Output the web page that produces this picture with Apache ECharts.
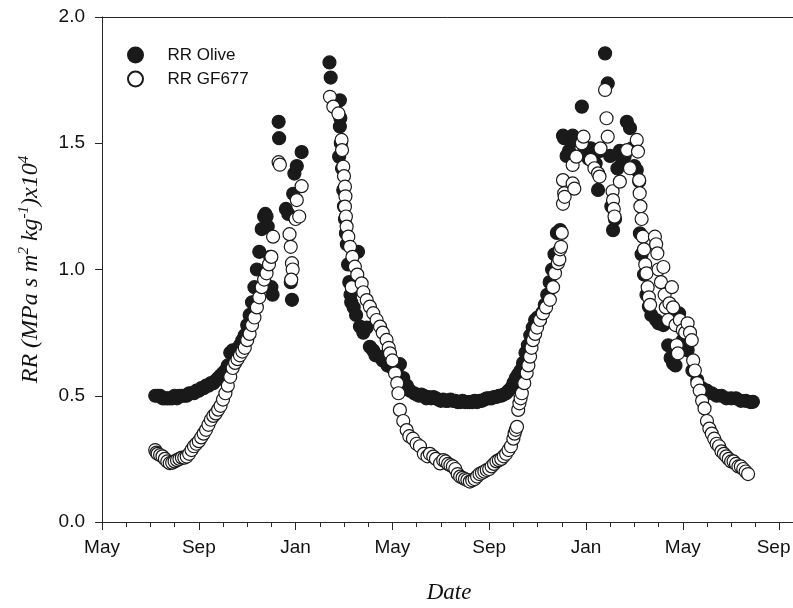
<!DOCTYPE html>
<html><head><meta charset="utf-8">
<script src="https://cdn.jsdelivr.net/npm/echarts@6/dist/echarts.min.js"></script>
<style>html,body{margin:0;padding:0;background:#fff}#c{width:793px;height:608px}</style>
</head><body><div id="c"></div>
<script>
// x = months since 1 May of the first year (May=0, Sep=4, Jan=8, ...)
const tickLabels = ['May','Sep','Jan','May','Sep','Jan','May','Sep'];
const seriesNames = ['RR Olive','RR GF677'];

const olive = [
 [2.2,.50],[2.3,.50],[2.4,.50],[2.5,.49],[2.6,.49],[2.7,.49],[2.8,.49],[2.9,.49],[3.0,.50],[3.1,.49],
 [3.2,.50],[3.3,.50],[3.4,.50],[3.5,.50],[3.6,.51],[3.7,.51],[3.8,.51],[3.9,.52],[4.0,.52],[4.1,.53],
 [4.2,.53],[4.3,.54],[4.4,.54],[4.5,.55],[4.6,.55],[4.7,.56],[4.8,.57],[4.9,.58],[5.0,.59],[5.1,.60],
 [5.2,.62],[5.3,.67],[5.4,.68],[5.5,.66],[5.6,.68],[5.7,.70],[5.8,.72],[5.9,.74],[6.0,.78],[6.1,.82],
 [6.2,.87],[6.3,.93],[6.4,1.00],[6.5,1.07],[6.6,1.16],[6.7,1.21],[6.75,1.22],[6.8,1.21],[6.85,1.17],
 [6.95,1.05],[7.0,.93],[7.05,.90],[7.3,1.585],[7.32,1.52],[7.6,1.24],[7.7,1.22],[7.8,.95],[7.85,.88],
 [7.9,1.30],[7.95,1.38],[8.05,1.41],[8.25,1.465],
 [9.40,1.82],[9.45,1.76],[9.83,1.67],[9.85,1.60],[9.83,1.566],[9.87,1.50],[9.80,1.447],[9.92,1.40],
 [9.97,1.315],[10.0,1.25],[10.04,1.20],[10.08,1.144],[10.12,1.10],[10.17,1.02],[10.22,.95],[10.27,.90],
 [10.3,.87],[10.4,.85],[10.5,.82],[10.58,1.07],[10.66,.774],[10.8,.75],[10.94,.77],[11.07,.694],
 [11.2,.68],[11.3,.66],[11.49,.655],[11.6,.64],[11.8,.62],[12.0,.61],[12.18,.602],[12.31,.625],
 [12.45,.57],[12.6,.54],[12.73,.52],[12.9,.51],[13.0,.505],[13.1,.50],[13.2,.505],[13.3,.50],
 [13.4,.49],[13.5,.495],[13.6,.49],[13.7,.495],[13.8,.49],[13.9,.485],[14.0,.48],[14.1,.485],
 [14.2,.48],[14.3,.48],[14.4,.485],[14.5,.48],[14.6,.48],[14.7,.475],[14.8,.475],[14.9,.48],
 [15.0,.475],[15.1,.475],[15.2,.475],[15.3,.475],[15.4,.48],[15.5,.475],[15.6,.48],[15.7,.48],
 [15.8,.485],[15.9,.49],[16.0,.49],[16.1,.49],[16.2,.495],[16.3,.495],[16.4,.50],[16.5,.50],
 [16.6,.505],[16.7,.51],[16.8,.52],[16.9,.53],[17.0,.55],[17.1,.57],[17.2,.585],[17.3,.60],
 [17.4,.63],[17.5,.67],[17.6,.70],[17.7,.74],[17.8,.77],[17.9,.80],[18.0,.81],[18.1,.80],
 [18.2,.83],[18.3,.86],[18.4,.90],[18.5,.95],[18.6,1.0],[18.7,1.06],[18.8,1.145],[18.93,1.156],
 [19.05,1.53],[19.1,1.52],[19.2,1.45],[19.3,1.47],[19.45,1.53],[19.5,1.51],[19.83,1.645],[19.9,1.49],
 [20.0,1.46],[20.1,1.44],[20.2,1.48],[20.3,1.45],[20.4,1.42],[20.5,1.315],[20.6,1.47],[20.79,1.856],
 [20.9,1.737],[21.0,1.45],[21.05,1.25],[21.12,1.156],[21.2,1.20],[21.3,1.40],[21.4,1.47],[21.5,1.43],
 [21.6,1.45],[21.69,1.585],[21.82,1.56],[21.9,1.48],[22.0,1.41],[22.1,1.394],[22.2,1.35],[22.23,1.143],
 [22.3,1.06],[22.4,.98],[22.5,.90],[22.6,.853],[22.7,.82],[22.9,.80],[23.0,.787],[23.2,.78],
 [23.4,.70],[23.5,.65],[23.6,.628],[23.7,.62],[23.85,.826],[23.9,.78],[24.0,.72],[24.2,.68],
 [24.4,.60],[24.6,.562],[24.8,.53],[25.0,.52],[25.2,.51],[25.4,.50],[25.6,.50],[25.8,.49],
 [26.0,.49],[26.2,.49],[26.4,.48],[26.6,.48],[26.8,.475],[26.9,.476]
];

const gf677 = [
 [2.2,.285],[2.25,.275],[2.3,.27],[2.4,.265],[2.5,.26],[2.6,.25],[2.7,.24],[2.8,.233],[2.9,.235],
 [3.0,.24],[3.1,.245],[3.2,.25],[3.3,.255],[3.4,.255],[3.5,.259],[3.6,.27],[3.7,.285],[3.8,.30],
 [3.9,.31],[4.0,.32],[4.1,.335],[4.2,.35],[4.3,.365],[4.4,.385],[4.5,.405],[4.6,.42],[4.7,.43],
 [4.8,.445],[4.9,.46],[5.0,.485],[5.1,.51],[5.2,.54],[5.3,.575],[5.4,.61],[5.5,.63],[5.6,.645],
 [5.7,.66],[5.8,.675],[5.9,.69],[6.0,.72],[6.1,.745],[6.2,.78],[6.3,.81],[6.4,.85],[6.5,.89],
 [6.6,.93],[6.7,.96],[6.8,.985],[6.9,1.02],[7.0,1.05],[7.07,1.13],[7.3,1.425],[7.35,1.415],
 [7.75,1.14],[7.8,1.09],[7.85,1.025],[7.88,1.0],[7.82,.96],[8.0,1.2],[8.05,1.275],[8.15,1.21],[8.25,1.33],
 [9.42,1.684],[9.56,1.645],[9.77,1.618],[9.90,1.513],[9.92,1.473],[9.97,1.407],[10.0,1.37],
 [10.04,1.328],[10.06,1.29],[10.04,1.249],[10.08,1.21],[10.11,1.170],[10.18,1.13],[10.25,1.090],
 [10.35,1.05],[10.45,1.011],[10.55,.98],[10.32,.93],[10.73,.945],[10.8,.91],[10.94,.879],
 [11.07,.853],[11.21,.827],[11.35,.80],[11.49,.774],[11.6,.75],[11.76,.721],[11.85,.69],[11.90,.668],
 [12.0,.64],[12.11,.589],[12.2,.55],[12.25,.510],[12.31,.444],[12.45,.40],[12.59,.364],[12.7,.34],
 [12.85,.33],[13.0,.31],[13.14,.30],[13.3,.27],[13.45,.26],[13.55,.27],[13.69,.259],[13.8,.25],
 [13.97,.232],[14.1,.245],[14.2,.24],[14.3,.23],[14.4,.225],[14.5,.22],[14.6,.21],[14.7,.19],
 [14.8,.18],[14.9,.175],[15.0,.17],[15.1,.166],[15.2,.16],[15.3,.165],[15.4,.17],[15.5,.18],
 [15.6,.19],[15.7,.195],[15.8,.20],[15.9,.206],[16.0,.21],[16.1,.22],[16.2,.23],[16.3,.24],
 [16.4,.245],[16.5,.25],[16.6,.26],[16.7,.27],[16.8,.285],[16.9,.30],[17.0,.33],[17.05,.35],
 [17.1,.365],[17.15,.377],[17.2,.444],[17.25,.47],[17.3,.49],[17.35,.51],[17.45,.55],[17.55,.59],
 [17.62,.62],[17.69,.655],[17.75,.69],[17.81,.72],[17.9,.745],[17.98,.77],[18.1,.80],[18.22,.826],
 [18.35,.85],[18.51,.88],[18.64,.93],[18.72,.985],[18.84,1.025],[18.9,1.04],[18.93,1.08],[18.97,1.09],
 [19.0,1.145],[19.05,1.26],[19.1,1.302],[19.12,1.288],[19.05,1.354],[19.45,1.341],[19.45,1.414],
 [19.52,1.32],[19.6,1.447],[19.83,1.50],[19.9,1.526],[20.2,1.434],[20.35,1.401],[20.5,1.381],
 [20.56,1.368],[20.6,1.48],[20.79,1.711],[20.85,1.599],[20.9,1.526],[21.1,1.31],[21.12,1.275],
 [21.15,1.24],[21.18,1.21],[21.4,1.348],[21.7,1.473],[21.82,1.401],[22.1,1.513],[22.15,1.467],
 [22.2,1.354],[22.22,1.302],[22.25,1.25],[22.3,1.20],[22.35,1.13],[22.4,1.08],[22.45,1.02],
 [22.5,.985],[22.55,.93],[22.6,.89],[22.65,.86],[22.85,1.13],[22.9,1.10],[22.95,1.064],[23.0,1.0],
 [23.1,.95],[23.2,1.01],[23.25,.90],[23.3,.85],[23.4,.80],[23.45,.866],[23.55,.93],[23.6,.85],
 [23.7,.78],[23.75,.70],[23.8,.668],[23.88,.80],[24.0,.76],[24.1,.75],[24.2,.787],[24.3,.75],
 [24.37,.72],[24.43,.64],[24.5,.60],[24.6,.55],[24.7,.52],[24.8,.48],[24.9,.45],[25.0,.40],
 [25.1,.37],[25.2,.35],[25.3,.33],[25.4,.31],[25.5,.30],[25.6,.28],[25.7,.27],[25.8,.26],
 [25.9,.25],[26.0,.24],[26.1,.24],[26.2,.23],[26.3,.22],[26.4,.22],[26.5,.21],[26.6,.20],[26.7,.19]
];

const axisColor = '#262626';
const textColor = '#111';
const xMax = 28.68;
const chart = echarts.init(document.getElementById('c'), null, {renderer: 'canvas'});
chart.setOption({
  animation: false,
  backgroundColor: '#fff',
  grid: {left: 102, right: -3, top: 17, bottom: 86, containLabel: false, outerBoundsMode: 'none'},
  legend: {
    orient: 'vertical', left: 127, top: 46.5, padding: 0,
    itemWidth: 54, itemHeight: 15, itemGap: 7,
    textStyle: {fontFamily: 'Liberation Sans', fontSize: 17, color: textColor, padding: [0,0,0,0]},
    data: seriesNames
  },
  xAxis: [
    {
      type: 'value', position: 'bottom', min: 0, max: xMax, interval: 4,
      axisLine: {lineStyle: {color: axisColor, width: 1}},
      axisTick: {length: 8, lineStyle: {color: axisColor}},
      axisLabel: {
        margin: 16, fontSize: 19, color: textColor, fontFamily: 'Liberation Sans',
        formatter: v => {
          if (Math.abs(v % 4) > 1e-9) return '';
          const k = Math.round(v / 4);
          if (k >= tickLabels.length) return '';
          return k === tickLabels.length - 1 ? '{last|' + tickLabels[k] + '}' : tickLabels[k];
        },
        rich: {last: {fontSize: 19, fontFamily: 'Liberation Sans', color: textColor, padding: [0, 12, 0, 0]}}
      },
      splitLine: {show: false},
      name: 'Date', nameLocation: 'middle', nameGap: 59,
      nameTextStyle: {fontFamily: 'Liberation Serif', fontStyle: 'italic', fontSize: 23, color: textColor}
    },
    {
      type: 'value', position: 'bottom', min: 0, max: xMax, interval: 1,
      axisLine: {show: false},
      axisTick: {length: 5, lineStyle: {color: axisColor}},
      axisLabel: {show: false}, splitLine: {show: false}
    },
    {
      type: 'value', position: 'top', min: 0, max: xMax,
      axisLine: {lineStyle: {color: axisColor, width: 1}},
      axisTick: {show: false}, axisLabel: {show: false}, splitLine: {show: false}
    }
  ],
  yAxis: {
    type: 'value', min: 0, max: 2, interval: 0.5,
    axisLine: {show: true, lineStyle: {color: axisColor, width: 1}},
    axisTick: {show: true, length: 7, lineStyle: {color: axisColor}},
    axisLabel: {margin: 17, fontSize: 19, color: textColor, fontFamily: 'Liberation Sans', formatter: v => v.toFixed(1)},
    splitLine: {show: false},
    name: '{i|RR (MPa s m}{s|2}{i| kg}{s|-1}{i|)x10}{s|4}',
    nameLocation: 'middle', nameRotate: 90, nameGap: 58,
    nameTextStyle: {
      color: textColor,
      rich: {
        i: {fontFamily: 'Liberation Serif', fontStyle: 'italic', fontSize: 24, color: textColor, lineHeight: 27},
        s: {fontFamily: 'Liberation Serif', fontStyle: 'italic', fontSize: 15, color: textColor, verticalAlign: 'top', lineHeight: 27}
      }
    }
  },
  series: [
    {
      name: seriesNames[0], type: 'scatter', xAxisIndex: 0, data: olive,
      symbol: 'circle', symbolSize: 13,
      itemStyle: {color: '#1a1a1a', borderColor: '#1a1a1a', borderWidth: 1.2, opacity: 1}
    },
    {
      name: seriesNames[1], type: 'scatter', xAxisIndex: 0, data: gf677,
      symbol: 'circle', symbolSize: 13,
      itemStyle: {color: '#ffffff', borderColor: '#1a1a1a', borderWidth: 1.2, opacity: 1}
    }
  ]
});
</script>
</body></html>
